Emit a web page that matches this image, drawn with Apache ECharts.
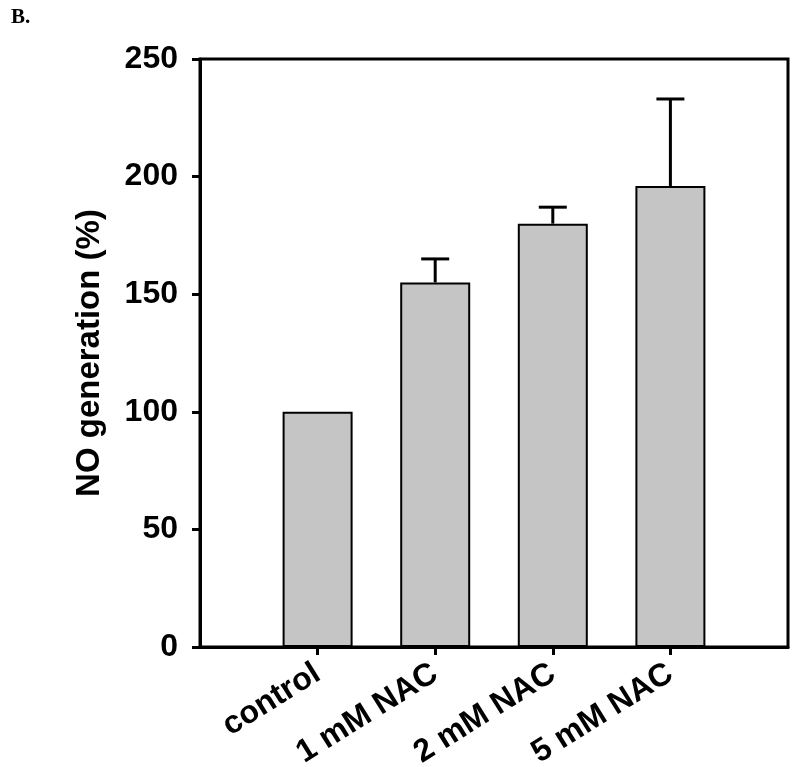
<!DOCTYPE html>
<html>
<head>
<meta charset="utf-8">
<script src="https://cdn.jsdelivr.net/npm/echarts@6/dist/echarts.min.js"></script>
<style>
  html, body { margin: 0; padding: 0; background: #fff; }
  #chart { width: 800px; height: 767px; }
</style>
</head>
<body>
<div id="chart"></div>
<script>
const categories = ['control', '1 mM NAC', '2 mM NAC', '5 mM NAC']
const positions = [1, 2, 3, 4]
const values = [100, 155, 180, 196]
const errorTops = [100, 165, 187, 233]
const yTicks = [0, 50, 100, 150, 200, 250]

const font = '"Liberation Sans", Arial, sans-serif'

const chart = echarts.init(document.getElementById('chart'))

chart.setOption({
  animation: false,
  title: {
    text: 'B.',
    left: 6,
    top: 2,
    textStyle: { fontFamily: '"Liberation Serif", "Times New Roman", serif', fontWeight: 'bold', fontSize: 21, color: '#000' },
  },
  grid: {
    left: 200,
    right: 12,
    top: 59,
    bottom: 120,
    outerBoundsMode: 'none',
    show: true,
    borderColor: '#000',
    borderWidth: 3,
    backgroundColor: '#fff',
  },
  xAxis: {
    type: 'value',
    min: 0,
    max: 5,
    interval: 1,
    splitLine: { show: false },
    axisLine: { lineStyle: { color: '#000', width: 3 } },
    axisTick: {
      show: true,
      customValues: positions,
      length: 8,
      lineStyle: { color: '#000', width: 3 },
    },
    axisLabel: {
      customValues: positions,
      rotate: 32,
      margin: 24,
      fontFamily: font,
      fontWeight: 'bold',
      fontSize: 32,
      color: '#000',
      formatter: v => categories[positions.indexOf(v)] || '',
    },
  },
  yAxis: {
    type: 'value',
    min: 0,
    max: 250,
    interval: 50,
    name: 'NO generation (%)',
    nameLocation: 'middle',
    nameGap: 94,
    nameTextStyle: { fontFamily: font, fontWeight: 'bold', fontSize: 33, color: '#000' },
    splitLine: { show: false },
    axisLine: { show: true, lineStyle: { color: '#000', width: 3 } },
    axisTick: { show: true, length: 8, lineStyle: { color: '#000', width: 3 } },
    axisLabel: {
      margin: 22,
      fontFamily: font,
      fontWeight: 'bold',
      fontSize: 32,
      color: '#000',
      formatter: v => (yTicks.includes(v) ? String(v) : ''),
    },
  },
  series: [
    {
      type: 'custom',
      z: 1,
      renderItem: (params, api) => {
        const x = api.value(0)
        const top = api.coord([x, api.value(1)])
        const errTop = api.coord([x, api.value(2)])
        if (api.value(2) <= api.value(1)) return { type: 'group', children: [] }
        return {
          type: 'group',
          children: [
            {
              type: 'line',
              shape: { x1: top[0], y1: top[1], x2: errTop[0], y2: errTop[1] },
              style: { stroke: '#000', lineWidth: 3 },
            },
            {
              type: 'line',
              shape: { x1: errTop[0] - 14, y1: errTop[1], x2: errTop[0] + 14, y2: errTop[1] },
              style: { stroke: '#000', lineWidth: 3 },
            },
          ],
        }
      },
      data: positions.map((p, i) => [p, values[i], errorTops[i]]),
    },
    {
      type: 'bar',
      z: 2,
      barWidth: 70,
      itemStyle: { color: '#c6c5c6', borderColor: '#000', borderWidth: 2 },
      data: positions.map((p, i) => [p, values[i]]),
    },
  ],
})
</script>
</body>
</html>
